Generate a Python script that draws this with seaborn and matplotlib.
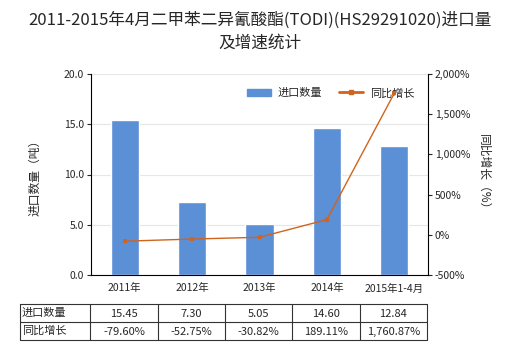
import matplotlib
matplotlib.use("Agg")
import matplotlib.pyplot as plt
import seaborn as sns
import pandas as pd
from matplotlib.lines import Line2D
from matplotlib.patches import Patch

categories = ["2011年", "2012年", "2013年", "2014年", "2015年1-4月"]
import_qty = [15.45, 7.30, 5.05, 14.60, 12.84]
yoy_growth = [-79.60, -52.75, -30.82, 189.11, 1760.87]
qty_labels = ["15.45", "7.30", "5.05", "14.60", "12.84"]
growth_labels = ["-79.60%", "-52.75%", "-30.82%", "189.11%", "1,760.87%"]
left_ticks = [0, 5, 10, 15, 20]
right_ticks = [-500, 0, 500, 1000, 1500, 2000]

sns.set_theme(style="white")
plt.rcParams["font.family"] = ["Noto Sans CJK SC", "DejaVu Sans"]

BAR = "#5B8FD6"
LINE = "#D0641C"
W, H = 520, 350

fig = plt.figure(figsize=(5.2, 3.5), dpi=100)
ax = fig.add_axes([91 / W, 1 - 275 / H, (428 - 91) / W, (275 - 74) / H])

df = pd.DataFrame({"cat": categories, "qty": import_qty, "yoy": yoy_growth})
sns.barplot(data=df, x="cat", y="qty", color=BAR, width=0.42, saturation=1, ax=ax, zorder=2)
ax.set_ylim(0, 20)
ax.set_xlim(-0.5, 4.5)
ax.set_yticks(left_ticks)
ax.set_yticklabels([f"{v:.1f}" for v in left_ticks], fontsize=7.5)
ax.yaxis.grid(True, color="#E6E6E6", lw=0.8, zorder=0)
ax.set_axisbelow(True)
ax.set_xlabel("")
ax.set_ylabel("进口数量（吨）", fontsize=8.5, labelpad=16)
ax.tick_params(axis="x", labelsize=7.5, length=0, pad=6)
ax.tick_params(axis="y", length=3, width=0.8, direction="out", left=True, pad=2)
for s in ["top", "right"]:
    ax.spines[s].set_visible(False)
ax.spines["left"].set_color("#000000")
ax.spines["bottom"].set_color("#000000")
ax.spines["left"].set_linewidth(0.8)
ax.spines["bottom"].set_linewidth(0.8)

ax2 = ax.twinx()
sns.lineplot(x=list(range(len(categories))), y=yoy_growth, ax=ax2, color=LINE, lw=1,
             marker="s", markersize=3.5, markeredgewidth=0, zorder=3)
ax2.set_ylim(-500, 2000)
ax2.set_yticks(right_ticks)
ax2.set_yticklabels([f"{v:,}%" for v in right_ticks], fontsize=7.5)
ax2.set_ylabel("同比增长（%）", fontsize=8.5, rotation=270, labelpad=14)
ax2.tick_params(axis="y", length=3, width=0.8, direction="out", right=True, pad=2)
for s in ["top", "left", "bottom"]:
    ax2.spines[s].set_visible(False)
ax2.spines["right"].set_color("#000000")
ax2.spines["right"].set_linewidth(0.8)

handles = [Patch(color=BAR, label="进口数量"),
           Line2D([0], [0], color=LINE, lw=2, marker="s", markersize=3.5, label="同比增长")]
ax.legend(handles=handles, loc="upper right", bbox_to_anchor=(0.99, 0.98), ncol=2,
          frameon=False, fontsize=8, handlelength=2.2, columnspacing=1.5, handletextpad=0.6)

fig.text(0.5, 1 - 20 / H, "2011-2015年4月二甲苯二异氰酸酯(TODI)(HS29291020)进口量",
         ha="center", va="center", fontsize=12)
fig.text(0.5, 1 - 43 / H, "及增速统计", ha="center", va="center", fontsize=12)

# data table under the chart
tab = fig.add_axes([0, 0, 1, 1], facecolor="none")
tab.set_xlim(0, W)
tab.set_ylim(H, 0)
tab.axis("off")
xs = [20, 90, 158, 225, 292, 360, 427]
ys = [304, 322, 340]
for y in ys:
    tab.plot([xs[0], xs[-1]], [y, y], color="#333333", lw=0.8)
for x in xs:
    tab.plot([x, x], [ys[0], ys[-1]], color="#333333", lw=0.8)
row_names = ["进口数量", "同比增长"]
rows = [qty_labels, growth_labels]
for r, (name, vals) in enumerate(zip(row_names, rows)):
    yc = (ys[r] + ys[r + 1]) / 2
    tab.text(xs[0] + 2, yc, name, ha="left", va="center", fontsize=8)
    for i, v in enumerate(vals):
        tab.text((xs[i + 1] + xs[i + 2]) / 2, yc + 1, v, ha="center", va="center", fontsize=8)

fig.savefig("out.png", dpi=100)
